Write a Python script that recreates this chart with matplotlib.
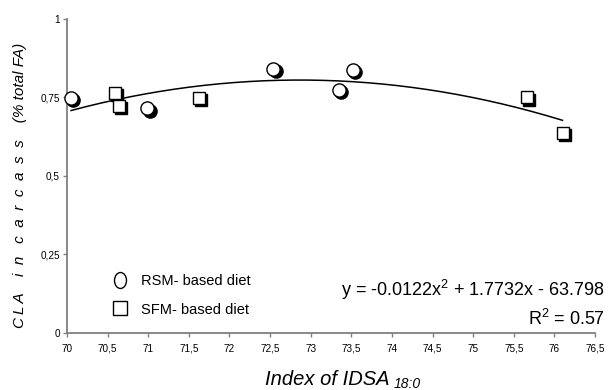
import numpy as np
import matplotlib
matplotlib.use('Agg')
import matplotlib.pyplot as plt
from matplotlib.transforms import offset_copy, Affine2D
from matplotlib.path import Path
from matplotlib.lines import Line2D

plt.rcParams['font.family'] = ['Liberation Sans', 'DejaVu Sans']
plt.rcParams['mathtext.fontset'] = 'custom'
plt.rcParams['mathtext.rm'] = 'Liberation Sans'
plt.rcParams['mathtext.it'] = 'Liberation Sans:italic'
plt.rcParams['mathtext.default'] = 'regular'

# ---- data ----
rsm_x = [70.05, 70.99, 72.54, 73.35, 73.52]
rsm_y = [0.749, 0.715, 0.841, 0.774, 0.837]
sfm_x = [70.59, 70.64, 71.62, 75.66, 76.10]
sfm_y = [0.764, 0.722, 0.749, 0.750, 0.636]
x_ticks = [70, 70.5, 71, 71.5, 72, 72.5, 73, 73.5, 74, 74.5, 75, 75.5, 76, 76.5]
x_tick_labels = ['70', '70,5', '71', '71,5', '72', '72,5', '73', '73,5', '74',
                 '74,5', '75', '75,5', '76', '76,5']
y_ticks = [0, 0.25, 0.5, 0.75, 1]
y_tick_labels = ['0', '0,25', '0,5', '0,75', '1']
legend_labels = ['RSM- based diet', 'SFM- based diet']
equation_text = 'y = -0.0122x$^{2}$ + 1.7732x - 63.798'
r2_text = 'R$^{2}$ = 0.57'
y_label = 'C\u2009L\u2009A    i  n   c  a  r  c  a  s  s    (% total FA)'

W, H = 616, 390
fig = plt.figure(figsize=(W / 100, H / 100), dpi=100)
ax = fig.add_axes([67 / W, 1 - 332.7 / H, (595 - 67) / W, (332.7 - 19) / H])

# trendline (quadratic fit over all points)
all_x = np.array(rsm_x + sfm_x)
all_y = np.array(rsm_y + sfm_y)
coef = np.polyfit(all_x, all_y, 2)
xs = np.linspace(all_x.min(), all_x.max(), 200)
ax.plot(xs, np.polyval(coef, xs), color='black', lw=1.1, zorder=2)

# markers with drop shadow
shadow = offset_copy(ax.transData, fig=fig, x=1.6, y=-1.6, units='points')
ax.plot(rsm_x, rsm_y, 'o', ms=9.5, mfc='black', mec='black', mew=1.0,
        transform=shadow, zorder=3, clip_on=False)
ax.plot(sfm_x, sfm_y, 's', ms=9.0, mfc='black', mec='black', mew=1.0,
        transform=shadow, zorder=3, clip_on=False)
ax.plot(rsm_x, rsm_y, 'o', ms=9.5, mfc='white', mec='black', mew=1.0,
        zorder=4, clip_on=False)
ax.plot(sfm_x, sfm_y, 's', ms=9.0, mfc='white', mec='black', mew=1.0,
        zorder=4, clip_on=False)

ax.set_xlim(70, 76.5)
ax.set_ylim(0, 1)
ax.set_xticks(x_ticks)
ax.set_xticklabels(x_tick_labels)
ax.set_yticks(y_ticks)
ax.set_yticklabels(y_tick_labels)
for s in ['top', 'right']:
    ax.spines[s].set_visible(False)
for s in ['left', 'bottom']:
    ax.spines[s].set_color('#808080')
    ax.spines[s].set_linewidth(1.3)
ax.tick_params(axis='both', colors='#808080', length=3, width=1.0,
               labelsize=7.2, labelcolor='black')
ax.tick_params(axis='x', pad=5)
ax.tick_params(axis='y', pad=2)

# legend
ell = Path.unit_circle().transformed(Affine2D().scale(0.75, 1.0))
handles = [Line2D([], [], ls='none', marker=ell, ms=11.5, mfc='white', mec='black', mew=1.0),
           Line2D([], [], ls='none', marker='s', ms=10, mfc='white', mec='black', mew=1.0)]
fig.legend(handles, legend_labels, loc='upper left',
           bbox_to_anchor=(113 / W, 1 - 274 / H), frameon=False,
           fontsize=10.5, handlelength=1.0, handletextpad=0.9,
           labelspacing=1.0, borderpad=0, borderaxespad=0)

# equation
fig.text(605 / W, 1 - 296 / H, equation_text, ha='right', va='baseline', fontsize=13)
fig.text(605 / W, 1 - 325 / H, r2_text, ha='right', va='baseline', fontsize=13)

# axis labels
fig.text(265 / W, 1 - 385 / H, 'Index of IDSA', ha='left', va='baseline',
         fontsize=14.5, style='italic')
fig.text(394 / W, 1 - 388 / H, '18:0', ha='left', va='baseline',
         fontsize=10, style='italic')
fig.text(20 / W, 1 - 185 / H, y_label,
         rotation=90, ha='center', va='center', fontsize=11, style='italic')

fig.savefig('out.png', dpi=100)
